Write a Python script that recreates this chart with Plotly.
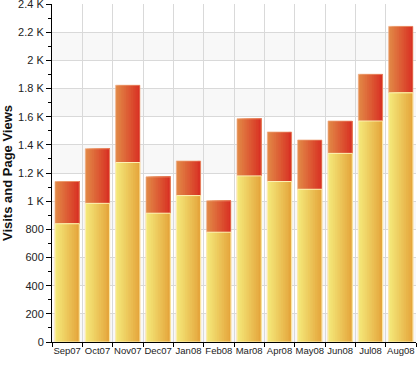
import plotly.graph_objects as go

months = ["Sep07", "Oct07", "Nov07", "Dec07", "Jan08", "Feb08",
          "Mar08", "Apr08", "May08", "Jun08", "Jul08", "Aug08"]
visits = [840, 985, 1275, 915, 1040, 780, 1180, 1140, 1085, 1340, 1570, 1770]
page_views = [1140, 1373, 1824, 1173, 1286, 1003, 1586, 1492, 1435, 1570, 1902, 2242]
y_tick_vals = [0, 200, 400, 600, 800, 1000, 1200, 1400, 1600, 1800, 2000, 2200, 2400]
y_tick_text = ["0", "200", "400", "600", "800", "1 K", "1.2 K", "1.4 K", "1.6 K",
               "1.8 K", "2 K", "2.2 K", "2.4 K"]


def lerp(c1, c2, t):
    return "rgb(%d,%d,%d)" % tuple(round(a + (b - a) * t) for a, b in zip(c1, c2))


BAR_W = 0.8
N = 14
fig = go.Figure()


def gradient_bars(vals, c_left, c_right, edge):
    for j in range(N):
        off = -BAR_W / 2 + j * BAR_W / N
        fig.add_trace(go.Bar(
            x=months, y=vals, offset=off, width=BAR_W / 2 - off,
            marker=dict(color=lerp(c_left, c_right, j / (N - 1)), line_width=0),
            showlegend=False, hoverinfo="skip"))
    fig.add_trace(go.Bar(
        x=months, y=vals, offset=-BAR_W / 2, width=BAR_W,
        marker=dict(color="rgba(0,0,0,0)", line=dict(color=edge, width=1)),
        showlegend=False, hoverinfo="skip"))


gradient_bars(page_views, (226, 136, 70), (216, 50, 36), "rgba(240,170,130,0.7)")
gradient_bars(visits, (244, 232, 122), (229, 166, 60), "rgba(255,245,190,0.9)")

fig.update_layout(
    width=417, height=368,
    margin=dict(l=52, r=1, t=4, b=26),
    barmode="overlay",
    plot_bgcolor="white", paper_bgcolor="white",
    font=dict(family="Liberation Sans, Arial, sans-serif", color="#222222"),
    showlegend=False,
)
# alternating light bands: 2.0-2.2, 1.6-1.8, 1.2-1.4, ...
for i in range(len(y_tick_vals) - 2, 0, -2):
    fig.add_shape(type="rect", xref="paper", yref="y", x0=0, x1=1,
                  y0=y_tick_vals[i - 1], y1=y_tick_vals[i],
                  fillcolor="#f8f8f8", line_width=0, layer="below")

fig.update_xaxes(
    type="category", tickson="boundaries", tickangle=0,
    showgrid=True, gridcolor="#d9d9d9", gridwidth=1,
    ticks="outside", ticklen=4, tickcolor="black",
    showline=True, linecolor="black", linewidth=1,
    tickfont=dict(size=9.5, color="#222222"),
    range=[-0.5, len(months) - 0.5],
)
fig.update_yaxes(
    range=[0, 2401], tickmode="array", tickvals=y_tick_vals, ticktext=y_tick_text,
    showgrid=True, gridcolor="#d9d9d9", gridwidth=1,
    ticks="outside", ticklen=5, tickcolor="black",
    showline=True, linecolor="black", linewidth=1,
    minor=dict(dtick=100, tick0=0, ticks="outside", ticklen=3, tickcolor="black", showgrid=False),
    tickfont=dict(size=11, color="#222222"),
    ticklabeloverflow="allow",
    zeroline=False, automargin=False,
    title=dict(text="<b>Visits and Page Views</b>", font=dict(size=13, color="#111111"), standoff=4),
)

fig.write_html("out.html", config={"displayModeBar": False},
               post_script="document.body.style.margin='0';document.body.style.overflow='hidden';")
